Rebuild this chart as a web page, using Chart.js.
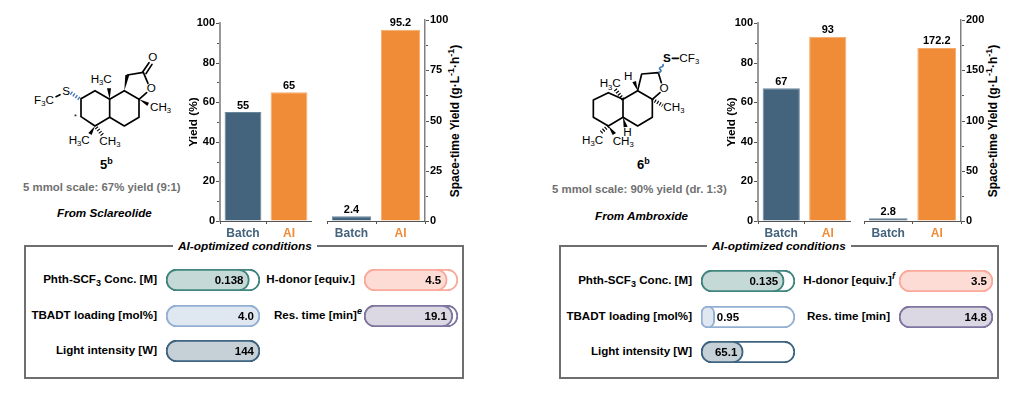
<!DOCTYPE html>
<html>
<head>
<meta charset="utf-8">
<script src="https://cdn.jsdelivr.net/npm/chart.js@4"></script>
<style>
  html, body { margin: 0; padding: 0; background: #fff; overflow: hidden; }
  body { width: 1017px; height: 395px; position: relative; font-family: "Liberation Sans", Arial, sans-serif; color: #000; }
  canvas { position: absolute; }
  .t { position: absolute; white-space: nowrap; line-height: 14px; }
  .lbl { font-weight: bold; font-size: 11.6px; text-align: right; }
  .lbl sub, .lbl sup, .sty sup, .num sup { font-size: 9px; line-height: 0; }
  .box { position: absolute; box-sizing: border-box; border: 2px solid #6f6f6f; width: 440px; height: 134px; top: 245px; }
  .boxtitle { font: italic bold 11.8px "Liberation Sans", Arial, sans-serif; background: #fff; padding: 0 5px; text-align: center; }
  .grey { font-weight: bold; font-size: 11.4px; color: #707070; }
  .from { font-style: italic; font-weight: bold; font-size: 11.7px; }
  .num { font-weight: bold; font-size: 13px; text-align: center; }
  .sty { font-weight: bold; font-size: 12px; transform: translate(-50%, -50%) rotate(-90deg); }
  svg { position: absolute; }
  svg text { font-family: "Liberation Sans", Arial, sans-serif; font-size: 35px; fill: #000; }
  svg tspan.s { font-size: 23px; }
  svg .b { fill: none; stroke: #000; stroke-width: 5; stroke-linejoin: round; stroke-linecap: round; }
  svg .h { stroke: #000; stroke-width: 11; stroke-dasharray: 3.5 5; }
  svg .hb { stroke: #3f74b0; stroke-width: 11; stroke-dasharray: 4 5; }
</style>
</head>
<body>

<div class="box" style="left:24px"></div>
<div class="box" style="left:559px"></div>
<div class="t boxtitle" style="left:173px;top:239px">AI-optimized conditions</div>
<div class="t boxtitle" style="left:707px;top:239px">AI-optimized conditions</div>

<svg style="left:0;top:0" width="180" height="240" viewBox="0 0 540 720">
  <polyline class="b" points="243,296 285,272 329,298 329,352 285,378 243,350 243,296"/>
  <polyline class="b" points="329,298 373,272 417,298 417,352 373,378 329,352"/>
  <polyline class="b" points="382,225 430,217 444,250"/>
  <line class="b" x1="440" y1="278" x2="417" y2="298"/>
  <line class="b" x1="428" y1="216" x2="447" y2="188"/>
  <line class="b" x1="438" y1="221" x2="456" y2="193"/>
  <line class="b" x1="168" y1="290" x2="180" y2="284"/>
  <polygon points="373,272 376,225 388,225"/>
  <polygon points="329,298 321,265 333,265"/>
  <polygon points="417,298 447,308 442,318"/>
  <polygon points="285,378 265,399 275,405"/>
  <line class="h" x1="289" y1="382" x2="308" y2="406"/>
  <line class="hb" x1="238" y1="296" x2="212" y2="278"/>
  <text x="272" y="248">H<tspan class="s" dy="7">3</tspan><tspan dy="-7">C</tspan></text>
  <text x="450" y="333">CH<tspan class="s" dy="7">3</tspan></text>
  <text x="102" y="312">F<tspan class="s" dy="7">3</tspan><tspan dy="-7">C</tspan></text>
  <text x="187" y="285">S</text>
  <text x="454" y="276" text-anchor="middle">O</text>
  <text x="458" y="184" text-anchor="middle">O</text>
  <text x="206" y="432">H<tspan class="s" dy="7">3</tspan><tspan dy="-7">C</tspan></text>
  <text x="298" y="435">CH<tspan class="s" dy="7">3</tspan></text>
  <text x="222" y="358" style="font-size:22px">*</text>
</svg>

<svg style="left:540px;top:0" width="180" height="240" viewBox="0 0 540 720">
  <polyline class="b" points="160,300 205,278 249,298 249,352 205,378 160,352 160,300"/>
  <polyline class="b" points="249,298 293,272 337,298 337,352 293,378 249,352"/>
  <polyline class="b" points="293,272 305,222 355,218 364,248"/>
  <line class="b" x1="360" y1="278" x2="337" y2="298"/>
  <line class="b" x1="397" y1="175" x2="415" y2="175"/>
  <path d="M355 218 q 12 -4 6 -9 q -7 -5 5 -9 q 6 -3 2 -8" fill="none" stroke="#3f74b0" stroke-width="5"/>
  <polygon points="293,272 277,247 288,243"/>
  <polygon points="249,352 251,382 263,380"/>
  <polygon points="205,378 218,405 228,399"/>
  <line class="h" x1="249" y1="298" x2="224" y2="266"/>
  <line class="h" x1="337" y1="298" x2="368" y2="316"/>
  <line class="h" x1="205" y1="378" x2="180" y2="400"/>
  <text x="179" y="262">H<tspan class="s" dy="7">3</tspan><tspan dy="-7">C</tspan></text>
  <text x="252" y="240">H</text>
  <text x="370" y="333">CH<tspan class="s" dy="7">3</tspan></text>
  <text x="250" y="407">H</text>
  <text x="126" y="432">H<tspan class="s" dy="7">3</tspan><tspan dy="-7">C</tspan></text>
  <text x="218" y="435">CH<tspan class="s" dy="7">3</tspan></text>
  <text x="372" y="276" text-anchor="middle">O</text>
  <text x="381" y="186" text-anchor="middle" style="font-weight:bold">S</text>
  <text x="418" y="186">CF<tspan class="s" dy="7">3</tspan></text>
</svg>

<div class="t num" style="left:100px;top:158px;">5<sup>b</sup></div>
<div class="t num" style="left:637px;top:158px;">6<sup>b</sup></div>
<div class="t grey" style="left:23px;top:180px">5 mmol scale: 67% yield (9:1)</div>
<div class="t grey" style="left:552px;top:182px">5 mmol scale: 90% yield (dr. 1:3)</div>
<div class="t from" style="left:57px;top:206px">From Sclareolide</div>
<div class="t from" style="left:595px;top:209px">From Ambroxide</div>

<div class="t sty" style="left:455px;top:121px">Space-time Yield (g&#183;L<sup>-1</sup>&#183;h<sup>-1</sup>)</div>
<div class="t sty" style="left:993px;top:121px">Space-time Yield (g&#183;L<sup>-1</sup>&#183;h<sup>-1</sup>)</div>

<script>
// data
var categories = ['Batch', 'AI'];
var sclareolideYield = [55, 65];
var sclareolideSty = [2.4, 95.2];
var ambroxideYield = [67, 93];
var ambroxideSty = [2.8, 172.2];

var sclareolideNames = [
    'Phth-SCF<sub>3</sub> Conc. [M]', 'H-donor [equiv.]', 'TBADT loading [mol%]', 'Res. time [min]<sup><i>e</i></sup>', 'Light intensity [W]'
];
var ambroxideNames = [
    'Phth-SCF<sub>3</sub> Conc. [M]', 'H-donor [equiv.]<sup><i>f</i></sup>', 'TBADT loading [mol%]', 'Res. time [min]', 'Light intensity [W]'
];
var sclareolideValues = ['0.138', '4.5', '4.0', '19.1', '144'];
var ambroxideValues = ['0.135', '3.5', '0.95', '14.8', '65.1'];
// full length of each pill, in the unit of its value
var sclareolideMax = [0.1555, 5.08, 4.0, 20.2, 144];
var ambroxideMax = [0.1525, 3.5, 6.5, 14.8, 144.7];

var pillBorders = ['#41857f', '#fba99b', '#93b0d3', '#7f769f', '#3f6480'];
var pillFills = ['#c5d9d6', '#fddcd5', '#dfe7f1', '#dbd8e3', '#c5d0d7'];

var barColors = ['#44637c', '#f08c38'];
var barEdges = ['#6a879c', '#f6ab6c'];
var FONT = '"Liberation Sans", Arial, sans-serif';

function addCanvas(left, top, w, h) {
    var c = document.createElement('canvas');
    c.width = w;
    c.height = h;
    c.style.left = left + 'px';
    c.style.top = top + 'px';
    c.style.width = w + 'px';
    c.style.height = h + 'px';
    document.body.appendChild(c);
    return c;
}

function barPlugin(minorDir) {
    return {
        id: 'barMarks',
        afterDatasetsDraw: function(chart) {
            var ctx = chart.ctx, y = chart.scales.y, area = chart.chartArea;
            ctx.save();
            // value labels
            ctx.fillStyle = '#000';
            ctx.font = 'bold 11px ' + FONT;
            ctx.textAlign = 'center';
            ctx.textBaseline = 'bottom';
            chart.getDatasetMeta(0).data.forEach(function(bar, i) {
                ctx.fillText(chart.data.datasets[0].data[i], bar.x, bar.y - 1);
            });
            // y ticks, labelled ones longer than the rest
            ctx.strokeStyle = '#555';
            ctx.lineWidth = 1;
            var x0 = minorDir < 0 ? area.left - 1 : area.right + 1;
            y.ticks.forEach(function(t) {
                var py = Math.round(y.getPixelForValue(t.value)) + 0.5;
                var len = t.label === '' ? 2 : 3;
                ctx.beginPath();
                ctx.moveTo(x0, py);
                ctx.lineTo(x0 + minorDir * len, py);
                ctx.stroke();
            });
            // baseline
            ctx.beginPath();
            ctx.moveTo(area.left, Math.round(area.bottom) + 0.5);
            ctx.lineTo(area.right, Math.round(area.bottom) + 0.5);
            ctx.stroke();
            ctx.restore();
        }
    };
}

function barChart(opts) {
    var w = opts.right - opts.left;
    var c = addCanvas(opts.left, 0, w, 245);
    return new Chart(c, {
        type: 'bar',
        data: {
            labels: categories,
            datasets: [{
                data: opts.values,
                backgroundColor: barColors,
                borderColor: barEdges,
                borderWidth: 1,
                borderSkipped: 'bottom',
                categoryPercentage: 1,
                barPercentage: 0.8
            }]
        },
        options: {
            responsive: false,
            animation: false,
            layout: { padding: { top: opts.top, right: 0, left: 0, bottom: 0 } },
            plugins: { legend: { display: false }, tooltip: { enabled: false } },
            scales: {
                x: {
                    border: { display: false },
                    grid: { drawOnChartArea: false, tickLength: 3, tickColor: '#555' },
                    ticks: { color: barColors, font: { family: FONT, size: 12, weight: 'bold' }, padding: 2, maxRotation: 0, autoSkip: false },
                    afterFit: function(s) { s.height = 24; },
                    afterSetDimensions: function(s) {
                        s.right -= opts.inset || 0;
                        s.width -= opts.inset || 0;
                    }
                },
                y: {
                    position: opts.position,
                    min: 0,
                    max: opts.max,
                    border: { display: true, color: opts.spine, width: opts.spineWidth },
                    grid: { drawOnChartArea: false, drawTicks: false },
                    title: opts.title ? { display: true, text: opts.title, color: '#000', padding: 0, font: { family: FONT, size: 11.8, weight: 'bold' } } : { display: false },
                    ticks: {
                        stepSize: opts.step,
                        autoSkip: false,
                        color: '#000',
                        padding: 5,
                        font: { family: FONT, size: 11, weight: 'bold' },
                        callback: function(v) { return v % opts.labelEvery === 0 ? v : ''; }
                    },
                    afterFit: function(s) { s.width = opts.axisWidth; }
                }
            }
        },
        plugins: [barPlugin(opts.position === 'left' ? -1 : 1)]
    });
}

barChart({ left: 187, right: 312, top: 23, values: sclareolideYield, position: 'left', max: 100, step: 10, labelEvery: 20, axisWidth: 33, spine: '#999', spineWidth: 2, title: 'Yield (%)' });
barChart({ left: 327, right: 470, top: 20, values: sclareolideSty, position: 'right', max: 100, step: 12.5, labelEvery: 25, axisWidth: 45, spine: '#808080', spineWidth: 1.5, inset: 3 });
barChart({ left: 725, right: 851, top: 23, values: ambroxideYield, position: 'left', max: 100, step: 10, labelEvery: 20, axisWidth: 33, spine: '#999', spineWidth: 2, title: 'Yield (%)' });
barChart({ left: 864, right: 1006, top: 20, values: ambroxideSty, position: 'right', max: 200, step: 25, labelEvery: 50, axisWidth: 45, spine: '#808080', spineWidth: 1.5 });

function pill(x, y, value, max, border, fill) {
    var c = addCanvas(x, y, 94, 22);
    var num = Number(value);
    new Chart(c, {
        type: 'bar',
        data: {
            labels: [''],
            datasets: [
                { data: [num], backgroundColor: fill, borderColor: border, borderWidth: 2, borderSkipped: false, borderRadius: 11, grouped: false, categoryPercentage: 1, barPercentage: 1 },
                { data: [max], backgroundColor: '#fff', borderColor: border, borderWidth: 2, borderSkipped: false, borderRadius: 11, grouped: false, categoryPercentage: 1, barPercentage: 1 }
            ]
        },
        options: {
            indexAxis: 'y',
            responsive: false,
            animation: false,
            layout: { padding: 0 },
            plugins: { legend: { display: false }, tooltip: { enabled: false } },
            scales: {
                x: { display: false, min: 0, max: max },
                y: { display: false }
            }
        },
        plugins: [{
            id: 'pillValue',
            afterDatasetsDraw: function(chart) {
                var ctx = chart.ctx, end = chart.getDatasetMeta(0).data[0].x;
                ctx.save();
                ctx.fillStyle = '#000';
                ctx.font = 'bold 11.5px ' + FONT;
                ctx.textBaseline = 'middle';
                // a fill too short to hold its number gets it just outside
                if (end < 30) {
                    ctx.textAlign = 'left';
                    ctx.fillText(value, end + 2, 11.5);
                } else {
                    ctx.textAlign = 'right';
                    ctx.fillText(value, end - 6, 11.5);
                }
                ctx.restore();
            }
        }]
    });
}

function label(html, rightX, centerY) {
    var d = document.createElement('div');
    d.className = 't lbl';
    d.innerHTML = html;
    d.style.right = (1017 - rightX) + 'px';
    d.style.top = (centerY - 7) + 'px';
    document.body.appendChild(d);
}

function conditions(dx, dy, names, labelEnds, values, maxes) {
    // order of the lists: two columns, three rows
    var cols = [166, 364, 166, 364, 166];
    var rows = [269, 269, 305, 305, 340];
    values.forEach(function(v, i) {
        pill(cols[i] + dx, rows[i] + dy, v, maxes[i], pillBorders[i], pillFills[i]);
        label(names[i], labelEnds[i] + dx, rows[i] + dy + 10);
    });
}

conditions(0, 0, sclareolideNames, [157, 355, 157, 362, 157], sclareolideValues, sclareolideMax);
conditions(535, 1, ambroxideNames, [157, 360, 157, 355, 157], ambroxideValues, ambroxideMax);
</script>
</body>
</html>
